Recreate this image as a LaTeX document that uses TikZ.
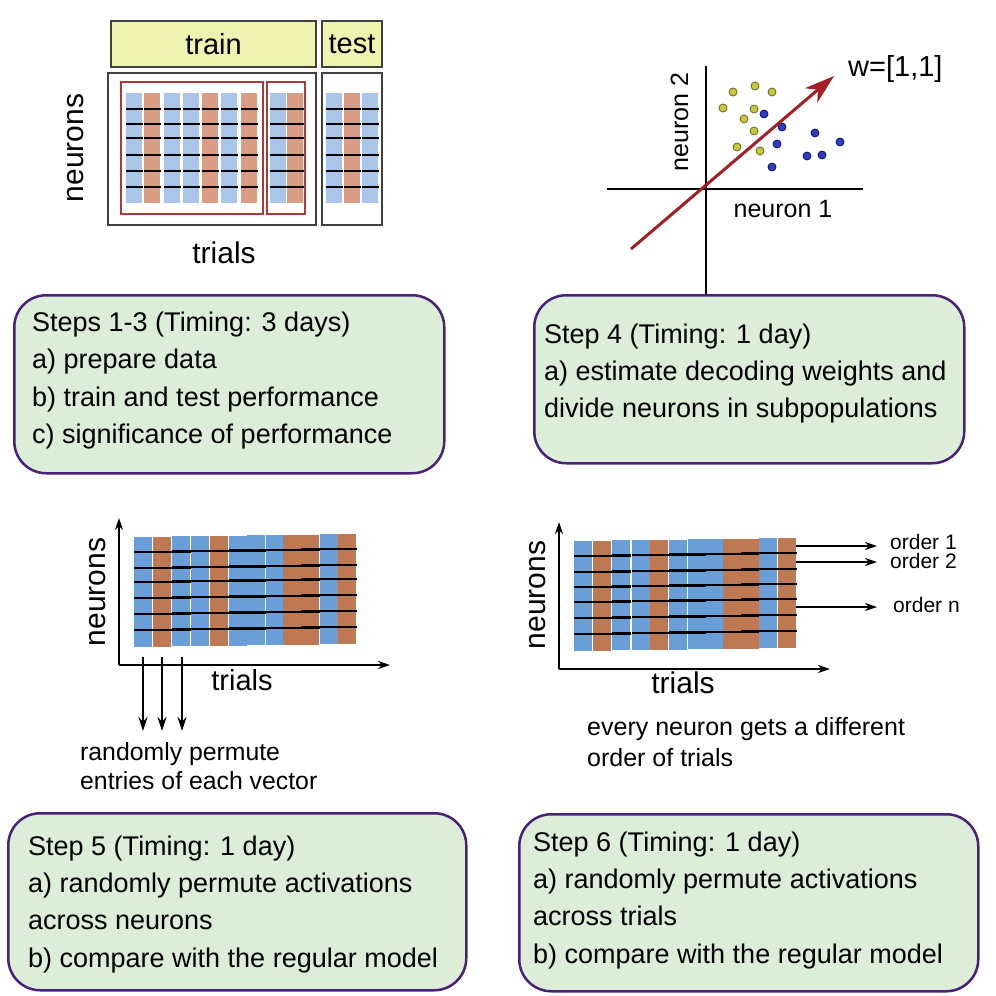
\documentclass[tikz,border=0pt]{standalone}
\usepackage{fontspec}
\setmainfont{Liberation Sans}
\usetikzlibrary{arrows.meta}
\definecolor{lblue}{HTML}{A9C6E8}
\definecolor{lorange}{HTML}{D99C84}
\definecolor{mblue}{HTML}{6A9ED6}
\definecolor{morange}{HTML}{BE7852}
\definecolor{boxfill}{HTML}{DCEDD8}
\definecolor{boxborder}{HTML}{4B2078}
\definecolor{trainfill}{HTML}{EEF4B0}
\definecolor{frame}{HTML}{404040}
\definecolor{redframe}{HTML}{B03838}
\definecolor{warrow}{HTML}{A31F24}
\definecolor{ydot}{HTML}{C8C83C}
\definecolor{ydotb}{HTML}{66661E}
\definecolor{bdot}{HTML}{2A3CC8}
\definecolor{bdotb}{HTML}{101058}
\begin{document}
\begin{tikzpicture}[x=1pt,y=-1pt,
  stepbox/.style={draw=boxborder, line width=2.5pt, fill=boxfill, rounded corners=32pt, rectangle, inner sep=0pt, anchor=north west},
  boxtext/.style={anchor=base west, inner sep=0pt, font=\fontsize{27}{32}\selectfont},
  labeltext/.style={inner sep=0pt, font=\fontsize{#1}{#1}\selectfont},
  labeltext/.default=30,
  headbox/.style={draw=frame, line width=2pt, fill=trainfill, rectangle, inner sep=0pt, font=\fontsize{29}{29}\selectfont},
  blackframe/.style={draw=frame, line width=2pt},
  redbox/.style={draw=redframe, line width=1.8pt},
  rowline/.style={line width=2.6pt, black},
  axis/.style={line width=2pt, black, -{Stealth[length=12pt,width=8pt]}},
  thinarrow/.style={line width=1.6pt, black, -{Stealth[length=12pt,width=8pt]}},
  ydotstyle/.style={fill=ydot, draw=ydotb, line width=0.8pt},
  bdotstyle/.style={fill=bdot, draw=bdotb, line width=0.8pt}
]
\useasboundingbox (0,0) rectangle (996,996);
\fill[white] (0,0) rectangle (996,996);

% ---------- top-left panel ----------
\node[headbox, minimum width=205pt, minimum height=46pt] (train) at (213.5,44) {train};
\node[headbox, minimum width=60pt, minimum height=46pt] (test) at (352,44) {test};
\draw[blackframe] (108,73) rectangle (316,225);
\draw[blackframe] (322,73) rectangle (382,225);
\foreach \x/\c in {126/lblue,144/lorange,164/lblue,183/lblue,202/lorange,221/lblue,241/lorange,270/lblue,287/lorange,326/lblue,344/lorange,362/lblue}{
  \fill[\c] (\x,93) rectangle ++(16,110);
  \foreach \yy in {109,124,138,155,171,187} \draw[rowline] (\x,\yy) -- ++(16.5,0);
}
\draw[redbox] (121,82) rectangle (263,214);
\draw[redbox] (267,82) rectangle (305,214);
\node[labeltext=30, anchor=base] (tltrials) at (224,263) {trials};
\node[labeltext=30, anchor=base, rotate=90] (tlneurons) at (83,148) {neurons};

% ---------- top-right panel ----------
\coordinate (vtop) at (706,66);
\coordinate (vbot) at (706,298);
\coordinate (hleft) at (607,189);
\coordinate (hright) at (863,189);
\coordinate (wstart) at (631,249);
\coordinate (wend) at (834,76);
\draw[line width=2.8pt] (vtop) -- (vbot);
\draw[line width=2.8pt] (hleft) -- (hright);
\foreach \px/\py in {733/92,755/86,772/92,723/108,754/109,744/119,754/131,737/147,760/151}
  \filldraw[ydotstyle] (\px,\py) circle (4pt);
\foreach \px/\py in {764/114,782/127,815/133,840/142,777/144,807/156,822/155,772/167}
  \filldraw[bdotstyle] (\px,\py) circle (4pt);
\draw[warrow, line width=3pt, -{Stealth[length=30pt,width=19pt,inset=9pt]}] (wstart) -- (wend);
\node[labeltext=29, anchor=base west] (wlabel) at (848,76) {w=[1,1]};
\node[labeltext=25, anchor=base] (n1) at (783,217) {neuron 1};
\node[labeltext=25, anchor=base, rotate=90] (n2) at (688,122) {neuron 2};

% ---------- boxes ----------
\node[stepbox, minimum width=430pt, minimum height=178pt] (box1) at (13,294) {};
\node[boxtext] at (32,331) {Steps 1-3 (Timing: 3 days)};
\node[boxtext] at (32,368) {a) prepare data};
\node[boxtext] at (32,406) {b) train and test performance};
\node[boxtext] at (32,443) {c) significance of performance};

\node[stepbox, minimum width=430pt, minimum height=168pt] (box2) at (533,294) {};
\node[boxtext] at (544,343) {Step 4 (Timing: 1 day)};
\node[boxtext] at (544,380) {a) estimate decoding weights and};
\node[boxtext] at (544,417) {divide neurons in subpopulations};

\node[stepbox, minimum width=458pt, minimum height=177pt] (box3) at (7,812) {};
\node[boxtext] at (28,855) {Step 5 (Timing: 1 day)};
\node[boxtext] at (28,892) {a) randomly permute activations};
\node[boxtext] at (28,929) {across neurons};
\node[boxtext] at (28,967) {b) compare with the regular model};

\node[stepbox, minimum width=459pt, minimum height=177pt] (box4) at (518,813) {};
\node[boxtext] at (533,851) {Step 6 (Timing: 1 day)};
\node[boxtext] at (533,888) {a) randomly permute activations};
\node[boxtext] at (533,925) {across trials};
\node[boxtext] at (533,963) {b) compare with the regular model};

% ---------- bottom-left panel ----------
\foreach \x/\c [count=\i from 0] in {134/mblue,153/morange,172/mblue,191/mblue,210/morange,229/mblue,247/mblue,266/mblue,283/morange,301/morange,320/mblue,338/morange}{
  \pgfmathsetmacro\d{-3*\i/11}
  \fill[\c] (\x,537+\d) rectangle ++(18,110);
  \foreach \yy in {552,568,582,598,614,630} \draw[rowline, line width=2.3pt] (\x,\yy+\d) -- ++(18.5,0);
}
\coordinate (blo) at (119,665);
\coordinate (blv) at (119,518);
\coordinate (blh) at (390,665);
\draw[axis] (blo) -- (blv);
\draw[axis] (blo) -- (blh);
\foreach \ax [count=\j] in {143,162,182}{
  \coordinate (pa\j) at (\ax,657);
  \coordinate (pb\j) at (\ax,731);
  \draw[thinarrow, -{Stealth[length=14pt,width=9pt]}] (pa\j) -- (pb\j);
}
\node[labeltext=29, anchor=base] (bltrials) at (242,690) {trials};
\node[labeltext=30, anchor=base, rotate=90] (blneurons) at (105,592) {neurons};
\node[labeltext=24.8, anchor=base west] (perm1) at (80,760) {randomly permute};
\node[labeltext=24.8, anchor=base west] (perm2) at (80,789) {entries of each vector};

% ---------- bottom-right panel ----------
\foreach \x/\c [count=\i from 0] in {574/mblue,593/morange,612/mblue,632/mblue,650/morange,669/mblue,688/mblue,706/mblue,723/morange,741/morange,759/mblue,778/morange}{
  \pgfmathsetmacro\d{-3*\i/11}
  \fill[\c] (\x,541+\d) rectangle ++(18,110);
  \foreach \yy in {556,572,587,602,618,634} \draw[rowline, line width=2.3pt] (\x,\yy+\d) -- ++(18.5,0);
}
\coordinate (bro) at (559,669);
\coordinate (brv) at (559,522);
\coordinate (brh) at (830,669);
\draw[axis] (bro) -- (brv);
\draw[axis] (bro) -- (brh);
\node[labeltext=21, anchor=base west] (o1) at (890,549) {order 1};
\node[labeltext=21, anchor=base west] (o2) at (890,568) {order 2};
\node[labeltext=21, anchor=base west] (on) at (893,612) {order n};
\coordinate (oa1) at (796,546);
\coordinate (oa2) at (796,562);
\coordinate (oan) at (796,607);
\coordinate (ob1) at (877,546);
\coordinate (ob2) at (877,562);
\coordinate (obn) at (877,607);
\draw[thinarrow] (oa1) -- (ob1);
\draw[thinarrow] (oa2) -- (ob2);
\draw[thinarrow] (oan) -- (obn);
\node[labeltext=30, anchor=base] (brtrials) at (683,693) {trials};
\node[labeltext=30, anchor=base, rotate=90] (brneurons) at (545,595) {neurons};
\node[labeltext=25, anchor=base west] (ev1) at (587,735) {every neuron gets a different};
\node[labeltext=25, anchor=base west] (ev2) at (587,766) {order of trials};
\end{tikzpicture}
\end{document}
